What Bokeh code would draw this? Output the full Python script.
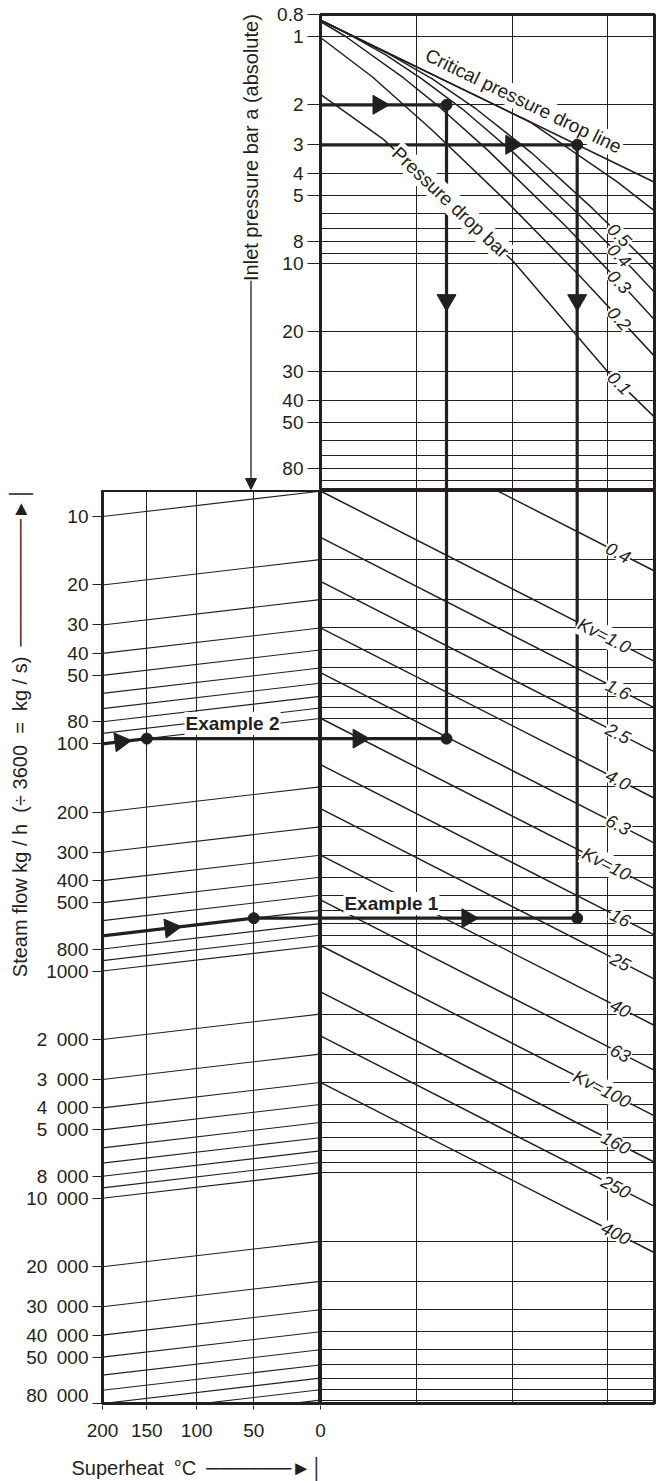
import math
from bokeh.plotting import figure
from bokeh.models import Range1d, FixedTicker, Arrow, NormalHead
from bokeh.layouts import column, row
from bokeh.embed import file_html
from bokeh.resources import INLINE
from bokeh.core.properties import value

INK = "#231f20"
FONT = "Liberation Sans"

# ---------------- data ----------------
pressure_ticks = [0.8, 1, 2, 3, 4, 5, 8, 10, 20, 30, 40, 50, 80]
pressure_tick_labels = ["0.8", "1", "2", "3", "4", "5", "8", "10", "20", "30", "40", "50", "80"]
pressure_grid = [1, 2, 3, 4, 5, 6, 7, 8, 9, 10, 20, 30, 40, 50, 60, 70, 80, 90]
pressure_limits = [0.8, 100]

flow_ticks = [10, 20, 30, 40, 50, 80, 100, 200, 300, 400, 500, 800, 1000,
              2000, 3000, 4000, 5000, 8000, 10000, 20000, 30000, 40000, 50000, 80000]
flow_tick_labels = ["10", "20", "30", "40", "50", "80", "100", "200", "300", "400", "500", "800", "1000",
                    "2 000", "3 000", "4 000", "5 000", "8 000", "10 000", "20 000", "30 000",
                    "40 000", "50 000", "80 000"]
flow_grid = [10, 20, 30, 40, 50, 60, 70, 80, 90,
             100, 200, 300, 400, 500, 600, 700, 800, 900,
             1000, 2000, 3000, 4000, 5000, 6000, 7000, 8000, 9000,
             10000, 20000, 30000, 40000, 50000, 60000, 70000, 80000, 90000, 100000]
flow_limits = [7.68, 80000]

superheat_ticks = [200, 150, 100, 50, 0]
superheat_grid = [150, 100, 50]
superheat_limits = [200, 0]
superheat_flow_ratio = 0.773          # flow-line value at 0 degC relative to its 200 degC end

q_limits = [7.72, 43.4]               # kg/h per unit Kv across the right-hand panels
q_grid = [12.68, 20.8, 34.0]

crit_q = [7.72, 29.1, 43.4]
crit_p = [0.848, 3.0, 4.39]

dp_names = ["1.0", "0.5", "0.4", "0.3", "0.2", "0.1"]
dp_labelled = [False, True, True, True, True, True]
dp_q = [
    [7.72, 22.8, 28.4, 35.8, 43.4],
    [7.72, 11.03, 13.73, 17.29, 22.98, 31.5, 41.4, 43.4],
    [7.72, 8.72, 10.86, 13.01, 16.08, 20.9, 28.4, 37.2, 43.4],
    [7.72, 8.79, 11.86, 14.36, 18.4, 27.4, 36.4, 43.4],
    [7.72, 10.1, 13.7, 20.3, 29.6, 43.4],
    [7.72, 10.69, 15.12, 20.9, 34.0, 43.4],
]
dp_p = [
    [0.848, 2.38, 3.20, 4.37, 5.86],
    [0.848, 1.199, 1.533, 2.091, 3.253, 5.72, 9.69, 10.67],
    [0.848, 0.952, 1.211, 1.532, 2.087, 3.24, 5.71, 9.70, 13.39],
    [0.859, 1.0, 1.523, 2.064, 3.19, 6.84, 12.17, 17.71],
    [1.01, 1.508, 2.567, 5.38, 11.44, 25.6],
    [1.80, 2.84, 5.38, 9.78, 29.8, 47.5],
]

kv_values = [0.4, 1.0, 1.6, 2.5, 4.0, 6.3, 10, 16, 25, 40, 63, 100, 160, 250, 400]
kv_labels = ["0.4", "Kv=1.0", "1.6", "2.5", "4.0", "6.3", "Kv=10", "16", "25", "40", "63",
             "Kv=100", "160", "250", "400"]

ex1_flow, ex1_superheat, ex1_p1, ex1_q = 700, 50, 3.0, 29.1
ex2_flow, ex2_superheat, ex2_p1, ex2_q = 100, 150, 2.0, 14.81

# ---------------- geometry (page px) ----------------
def TK(t):
    return t + 273.15

TOP_FRAME = (14, 490)
BOT_FRAME = (490, 1403)
LEFT_FRAME = (102, 320)
RIGHT_FRAME = (320, 654)
FRAME_TOP_H = TOP_FRAME[1] - TOP_FRAME[0]
FRAME_BOT_H = BOT_FRAME[1] - BOT_FRAME[0]
LEFT_W = LEFT_FRAME[1] - LEFT_FRAME[0]
RIGHT_W = RIGHT_FRAME[1] - RIGHT_FRAME[0]

XR = RIGHT_W / math.log10(q_limits[1] / q_limits[0])
YT = FRAME_TOP_H / math.log10(pressure_limits[1] / pressure_limits[0])
YB = FRAME_BOT_H / math.log10(flow_limits[1] / flow_limits[0])
XL = LEFT_W / math.log10(TK(superheat_limits[0]) / TK(superheat_limits[1]))


def screen_angle(x1, y1, x2, y2, xs, ys):
    dx = math.log10(x2 / x1) * xs
    dy = math.log10(y2 / y1) * ys     # y axes run downwards
    return -math.atan2(dy, dx)


def on_polyline(qs, ps, q):
    for i in range(len(qs) - 1):
        if qs[i] <= q <= qs[i + 1]:
            t = math.log10(q / qs[i]) / math.log10(qs[i + 1] / qs[i])
            p = 10 ** (math.log10(ps[i]) + t * math.log10(ps[i + 1] / ps[i]))
            return p, screen_angle(qs[i], ps[i], qs[i + 1], ps[i + 1], XR, YT)
    return ps[-1], 0.0


def flow_at_superheat(flow, t):
    frac = math.log10(TK(superheat_limits[0]) / TK(t)) / math.log10(TK(superheat_limits[0]) / TK(superheat_limits[1]))
    return flow * superheat_flow_ratio ** frac


def tk_from_px(px):        # page px -> kelvin, on the superheat scale
    return 10 ** (math.log10(TK(superheat_limits[0])) - (px - LEFT_FRAME[0]) / XL)


def base_fig(**kw):
    p = figure(output_backend="svg", toolbar_location=None, **kw)
    p.background_fill_color = "white"
    p.border_fill_color = "white"
    return p


def frame_style(p):
    p.outline_line_color = INK
    p.outline_line_width = 3
    p.outline_line_alpha = 1
    for g in p.grid:
        g.grid_line_color = INK
        g.grid_line_width = 1
        g.grid_line_alpha = 1


def axis_style(ax, tick_out, standoff, size="19px"):
    ax.axis_line_color = None
    ax.major_tick_out = tick_out
    ax.major_tick_in = 0
    ax.major_tick_line_color = INK
    ax.major_tick_line_width = 1
    ax.minor_tick_line_color = None
    ax.major_label_text_font = FONT
    ax.major_label_text_font_size = size
    ax.major_label_text_color = INK
    ax.major_label_standoff = standoff


def title_style(ax, standoff):
    ax.axis_label_text_font = FONT
    ax.axis_label_text_font_size = "20px"
    ax.axis_label_text_font_style = "normal"
    ax.axis_label_text_color = INK
    ax.axis_label_standoff = standoff


def hide_grid(p):
    for g in p.grid:
        g.visible = False


TXT = dict(text_font=value(FONT), text_color=INK, text_baseline="middle")
BG = dict(background_fill_color="white", padding=1)
THICK = 3.2
HEAD = dict(fill_color=INK, line_color=INK, line_width=1)
LINE_CH, HEAD_CH, BAR_CH = "\u2500", "\u25BA", "\u2502"

# ---------------- top-left: inlet pressure title ----------------
figL = base_fig(width=264, height=490, x_range=Range1d(0, 264), y_range=Range1d(490, 0),
                x_axis_location=None, y_axis_location=None, min_border=0)
figL.outline_line_color = None
hide_grid(figL)
figL.text(x=[250.5], y=[137], text=["Inlet pressure bar a (absolute)"], angle=math.pi / 2,
          text_align="center", text_font_size="20px", **TXT)
figL.add_layout(Arrow(end=NormalHead(size=11, **HEAD), x_start=250.5, y_start=274, x_end=250.5, y_end=489,
                      line_color=INK, line_width=1.3))

# ---------------- top panel: inlet pressure / pressure drop ----------------
ftop = base_fig(width=396, height=490, x_axis_type="log", y_axis_type="log",
                x_range=Range1d(q_limits[0], q_limits[1]),
                y_range=Range1d(pressure_limits[1], pressure_limits[0]),
                x_axis_location=None,
                min_border_left=56, min_border_right=6, min_border_top=14, min_border_bottom=0)
frame_style(ftop)
ftop.xgrid.ticker = FixedTicker(ticks=q_grid)
ftop.ygrid.ticker = FixedTicker(ticks=pressure_grid)
ya = ftop.yaxis[0]
ya.ticker = FixedTicker(ticks=pressure_ticks)
ya.major_label_overrides = dict(zip(pressure_ticks, pressure_tick_labels))
axis_style(ya, 13, 4)

ftop.line(crit_q, crit_p, line_color=INK, line_width=1.6)
ftop.multi_line(xs=dp_q, ys=dp_p, line_color=INK, line_width=1.5)

ftop.line([q_limits[0], ex2_q], [ex2_p1, ex2_p1], line_color=INK, line_width=THICK)
ftop.line([ex2_q, ex2_q], [ex2_p1, pressure_limits[1]], line_color=INK, line_width=THICK)
ftop.line([q_limits[0], ex1_q], [ex1_p1, ex1_p1], line_color=INK, line_width=THICK)
ftop.line([ex1_q, ex1_q], [ex1_p1, pressure_limits[1]], line_color=INK, line_width=THICK)

a_crit = screen_angle(crit_q[0], crit_p[0], crit_q[1], crit_p[1], XR, YT)
ftop.text(x=[22.04], y=[1.922], text=["Critical pressure drop line"], angle=a_crit,
          text_align="center", text_font_size="19px", **TXT, **BG)
p01, a01 = on_polyline(dp_q[5], dp_p[5], 15.12)
ftop.text(x=[15.12], y=[p01], text=["Pressure drop bar"], angle=a01,
          text_align="center", text_font_size="19px", **TXT, **BG)
lab_q = 36.2
for name, flag, qs, ps in zip(dp_names, dp_labelled, dp_q, dp_p):
    if flag:
        pl, al = on_polyline(qs, ps, lab_q)
        ftop.text(x=[lab_q], y=[pl], text=[name], angle=al, text_align="center",
                  text_font_size="18px", text_font_style="italic", **TXT, **BG)

ftop.scatter([ex2_q, ex1_q], [ex2_p1, ex1_p1], marker="circle", size=11, color=INK)
ftop.scatter([10.42, 20.7], [ex2_p1, ex1_p1], marker="triangle", angle=-math.pi / 2, size=19, color=INK)
ftop.scatter([ex2_q, ex1_q], [14.5, 14.5], marker="inverted_triangle", size=19, color=INK)

# ---------------- bottom-left panel: superheat correction ----------------
BOT_ROW_H = 915
fbl = base_fig(width=320, height=BOT_ROW_H, x_axis_type="log", y_axis_type="log",
               x_range=Range1d(TK(superheat_limits[0]), TK(superheat_limits[1])),
               y_range=Range1d(flow_limits[1], flow_limits[0]), x_axis_location=None,
               min_border_left=102, min_border_right=0, min_border_top=0, min_border_bottom=2)
frame_style(fbl)
fbl.xgrid.ticker = FixedTicker(ticks=[TK(t) for t in superheat_grid])
fbl.ygrid.visible = False
yb = fbl.yaxis[0]
yb.ticker = FixedTicker(ticks=flow_ticks)
yb.major_label_overrides = {f: s.replace(" ", "\u2002") for f, s in zip(flow_ticks, flow_tick_labels)}
axis_style(yb, 10, 4)
flow_title = "Steam flow kg\u00a0/\u00a0h\u00a0\u00a0(÷\u00a03600\u00a0\u00a0=\u00a0\u00a0kg\u00a0/\u00a0s)"
flow_arrow = "\u2002" + LINE_CH * 9 + HEAD_CH + BAR_CH
# leading blank space lifts the (centred) title + arrow to the upper part of the axis
yb.axis_label = "\u2003" * 21 + "\u2002" + flow_title + flow_arrow
title_style(yb, -8)

fbl.multi_line(xs=[[TK(superheat_limits[0]), TK(superheat_limits[1])] for f in flow_grid],
               ys=[[f, f * superheat_flow_ratio] for f in flow_grid],
               line_color=INK, line_width=1.1)

f2 = flow_at_superheat(ex2_flow, ex2_superheat)
f1 = flow_at_superheat(ex1_flow, ex1_superheat)
fbl.line([TK(superheat_limits[0]), TK(ex2_superheat), TK(superheat_limits[1])], [ex2_flow, f2, f2],
         line_color=INK, line_width=THICK)
fbl.line([TK(superheat_limits[0]), TK(ex1_superheat), TK(superheat_limits[1])], [ex1_flow, f1, f1],
         line_color=INK, line_width=THICK)
fbl.text(x=[TK(67.8)], y=[81.4], text=["Example 2"], text_align="center", text_font_size="19px",
         text_font_style="bold", **TXT, **BG)
a_slope = math.atan2(-math.log10(superheat_flow_ratio) * YB, LEFT_W)
fbl.scatter([TK(ex2_superheat), TK(ex1_superheat)], [f2, f1], marker="circle", size=11, color=INK)
fbl.scatter([TK(179), TK(125.5)], [flow_at_superheat(ex2_flow, 179), flow_at_superheat(ex1_flow, 125.5)],
            marker="triangle", angle=-math.pi / 2 + a_slope, size=19, color=INK)

# ---------------- bottom-right panel: Kv ----------------
fbr = base_fig(width=340, height=BOT_ROW_H, x_axis_type="log", y_axis_type="log",
               x_range=ftop.x_range, y_range=fbl.y_range,
               x_axis_location=None, y_axis_location=None,
               min_border_left=0, min_border_right=6, min_border_top=0, min_border_bottom=2)
frame_style(fbr)
fbr.xgrid.ticker = FixedTicker(ticks=q_grid)
fbr.ygrid.ticker = FixedTicker(ticks=[f * superheat_flow_ratio for f in flow_grid])

fbr.multi_line(xs=[[q_limits[0], q_limits[1]] for k in kv_values],
               ys=[[k * q_limits[0], k * q_limits[1]] for k in kv_values],
               line_color=INK, line_width=1.5)

fbr.line([q_limits[0], ex2_q], [f2, f2], line_color=INK, line_width=THICK)
fbr.line([ex2_q, ex2_q], [flow_limits[0], f2], line_color=INK, line_width=THICK)
fbr.line([q_limits[0], ex1_q], [f1, f1], line_color=INK, line_width=THICK)
fbr.line([ex1_q, ex1_q], [flow_limits[0], f1], line_color=INK, line_width=THICK)

a_kv = screen_angle(q_limits[0], q_limits[0], q_limits[1], q_limits[1], XR, YB)
kv_q = 38.3
fbr.text(x=[kv_q] * len(kv_values), y=[k * kv_q for k in kv_values], text=kv_labels, angle=a_kv,
         text_align="right", text_font_size="18px", text_font_style="italic", **TXT, **BG)
fbr.text(x=[11.14], y=[505], text=["Example 1"], text_align="center", text_font_size="19px",
         text_font_style="bold", **TXT, **BG)
fbr.scatter([ex2_q, ex1_q], [f2, f1], marker="circle", size=11, color=INK)
fbr.scatter([9.40, 16.5], [f2, f1], marker="triangle", angle=-math.pi / 2, size=19, color=INK)

# ---------------- superheat scale (its own strip under the left panel) ----------------
S_H, S_W = 76, 394
figS = base_fig(width=S_W, height=S_H, x_axis_type="log",
                x_range=Range1d(tk_from_px(0), tk_from_px(S_W)), y_range=Range1d(0, 1),
                x_axis_location="below", y_axis_location=None,
                min_border_left=0, min_border_right=0, min_border_top=0, min_border_bottom=S_H - 1)
figS.outline_line_color = None
hide_grid(figS)
sa = figS.xaxis[0]
sa.ticker = FixedTicker(ticks=[TK(t) for t in superheat_ticks])
sa.major_label_overrides = {TK(t): str(t) for t in superheat_ticks}
axis_style(sa, 4, 14)
sa.axis_label = "Superheat\u2002°C\u2002" + LINE_CH * 6 + HEAD_CH + BAR_CH
title_style(sa, 17)

layout = column(row(figL, ftop), row(fbl, fbr), figS)
open("out.html", "w").write(file_html(layout, INLINE))
